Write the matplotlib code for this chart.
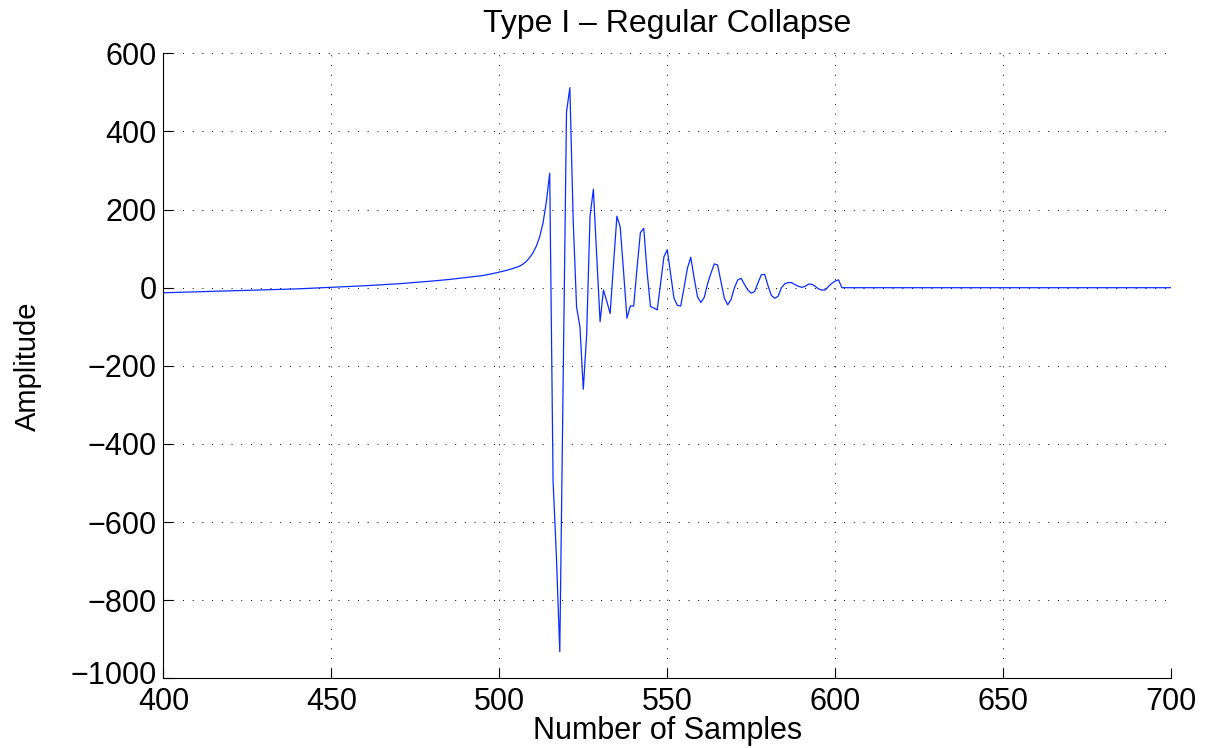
import numpy as np
import matplotlib
matplotlib.use('Agg')
import matplotlib.pyplot as plt
from matplotlib.transforms import ScaledTranslation

# sample index / amplitude
samples = [400, 420, 440, 450, 460, 470, 480, 485, 490, 495, 498, 500, 502,
           504, 506, 507, 508, 509, 510, 511, 512, 513, 514, 515,
           516, 517, 518, 519, 520, 521, 522, 523, 524, 525, 526, 527, 528,
           529, 530, 531, 532, 533, 534, 535, 536, 537, 538, 539, 540, 541,
           542, 543, 544, 545, 546, 547, 548, 549, 550, 551, 552, 553, 554,
           555, 556, 557, 558, 559, 560, 561, 562, 563, 564, 565, 566, 567,
           568, 569, 570, 571, 572, 573, 574, 575, 576, 577, 578, 579, 580,
           581, 582, 583, 584, 585, 586, 587, 588, 589, 590, 591, 592, 593,
           594, 595, 596, 597, 598, 599, 600, 601, 602, 700]
amplitude = [-13, -8, -3, 1, 5, 10, 17, 21, 26, 31, 36, 40, 44,
             49, 55, 60, 67, 77, 89, 106, 130, 165, 220, 293,
             -495, -690, -932, -240, 450, 512, 170, -50, -100, -260, -120, 182, 252,
             80, -87, -6, -35, -66, 60, 183, 155, 40, -78, -47, -47, 50,
             141, 152, 40, -48, -52, -57, 10, 79, 97, 35, -27, -45, -47,
             0, 50, 78, 25, -23, -38, -25, 10, 37, 61, 58, 15, -27,
             -44, -30, 0, 20, 24, 8, -6, -14, -10, 12, 33, 34, 5,
             -20, -27, -22, 0, 10, 13, 13, 8, 4, 1, 3, 9, 9,
             4, -3, -6, -6, 3, 11, 17, 20, 0, 0]

x_ticks = [400, 450, 500, 550, 600, 650, 700]
y_ticks = [-1000, -800, -600, -400, -200, 0, 200, 400, 600]

plt.rcParams['font.family'] = ['Liberation Sans', 'DejaVu Sans']

fig = plt.figure(figsize=(12.11, 7.48), dpi=100)
ax = fig.add_axes([0.135, 0.0932, 0.832, 0.8355])

ax.plot(samples, amplitude, color='#0a2cff', linewidth=0.9)

ax.set_xlim(400, 700)
ax.set_ylim(-1000, 600)
ax.set_xticks(x_ticks)
ax.set_yticks(y_ticks)
ax.grid(True, linestyle=(0, (1, 9)), color='black', linewidth=0.7)

# MATLAB style: box off, ticks pointing in
ax.spines['top'].set_visible(False)
ax.spines['right'].set_visible(False)
ax.tick_params(axis='both', direction='in', length=7, width=0.8,
               labelsize=22, pad=5)
ax.tick_params(axis='x', pad=6)

# nudge the bottom y label up a hair so it doesn't collide with "400"
lowest = ax.get_yticklabels()[0]
lowest.set_transform(lowest.get_transform()
                     + ScaledTranslation(0, 4 / 72, fig.dpi_scale_trans))

ax.set_title('Type I \u2013 Regular Collapse', fontsize=23, pad=15)
ax.set_xlabel('Number of Samples', fontsize=22)
ax.set_ylabel('Amplitude', fontsize=21)
ax.xaxis.set_label_coords(0.5, -0.061)
ax.yaxis.set_label_coords(-0.121, 0.5)

fig.savefig('out.png', dpi=100)
